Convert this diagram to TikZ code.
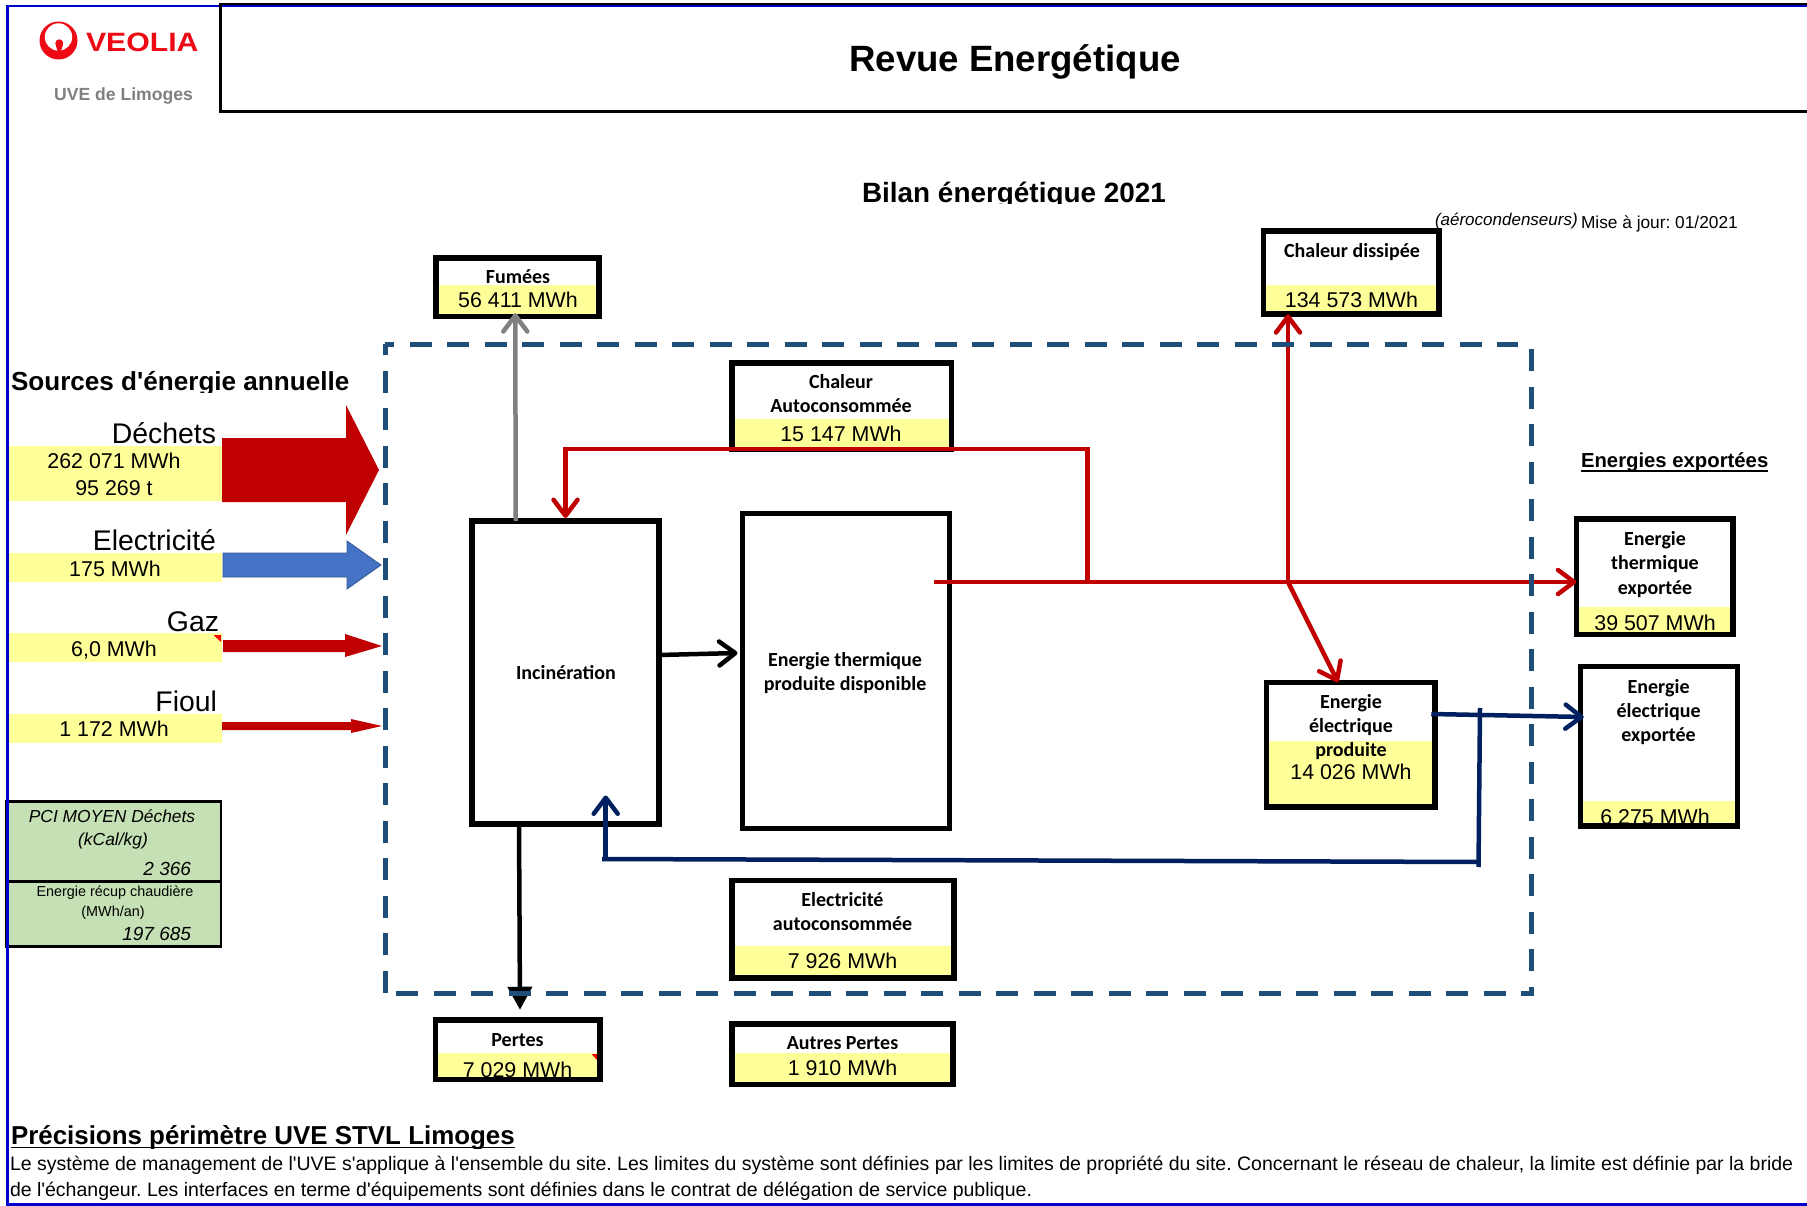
\documentclass[tikz,border=0pt]{standalone}
\usepackage{fontspec}
\newfontfamily\arialfont{Liberation Sans}
\newfontfamily\calibrifont{Carlito}
\usetikzlibrary{arrows.meta}
\definecolor{BANDYELLOW}{HTML}{FFFF99}
\definecolor{TABLEGREEN}{HTML}{C5E0B4}
\definecolor{DARKRED}{HTML}{C00000}
\definecolor{NAVY}{HTML}{002060}
\definecolor{PERIMETER}{HTML}{1F4E79}
\definecolor{FRAMEBLUE}{HTML}{0000CC}
\definecolor{ELECBLUE}{HTML}{4472C4}
\definecolor{LOGORED}{HTML}{EE0A14}
\tikzset{
BOX/.style 2 args={draw=black,line width=5.5pt,minimum width=#1pt,minimum height=#2pt,inner sep=0pt,outer sep=0pt},
BAND/.style={draw=none,fill=BANDYELLOW},
TXT/.style={anchor=base,inner sep=0pt,outer sep=0pt,font=\arialfont\frenchspacing\fontsize{#1}{#1}\selectfont},
TXT/.default = 21.4,
ITXT/.style={anchor=base,inner sep=0pt,outer sep=0pt,font=\arialfont\frenchspacing\itshape\fontsize{#1}{#1}\selectfont},
BTXT/.style={anchor=base,inner sep=0pt,outer sep=0pt,font=\arialfont\frenchspacing\bfseries\fontsize{#1}{#1}\selectfont},
LABEL/.style={anchor=base,inner sep=0pt,outer sep=0pt,font=\calibrifont\bfseries\fontsize{20}{20}\selectfont},
FLOW/.style={line width=4.5pt,line cap=butt,line join=miter,-{Straight Barb[round,length=16pt,width=24pt]}},
WIRE/.style={line width=4.5pt,line cap=butt,line join=miter},
PERIM/.style={draw=PERIMETER,line width=5pt,dash pattern=on 22pt off 15.5pt,dash phase=#1},
TABLE/.style={draw=black,line width=2.5pt,fill=TABLEGREEN,minimum width=215pt,inner sep=0pt,outer sep=0pt},
}
\begin{document}
\begin{tikzpicture} %Revue energetique
[x=1pt,y=-1pt]
	\useasboundingbox (0,0) rectangle (1807,1206);
	% header
	\fill[FRAMEBLUE] (6,5.3) rectangle (1807,7.3);
	\path[draw=black,line width=2.3pt] (1807,4.3) -- (220.5,4.3) -- (220.5,68);
	\path[draw=black,line width=3pt] (220.5,68) -- (220.5,111.5) -- (1807,111.5);
	\fill[LOGORED] (58.5,40.5) circle (19);
	\fill[white] (58.5,37) circle (13.7);
	\fill[LOGORED] (59.3,43.3) circle (4);
	\fill[LOGORED] (55.6,45) -- (58.3,53) -- (60.3,53) -- (63,45) -- cycle;
	\node[BTXT=26.5,anchor=base west,text=LOGORED,xscale=1.14,transform shape] (veolia) at (86,52) {VEOLIA};
	\node[BTXT=17.6,text=black!50] (uve) at (123.5,101) {UVE de Limoges};
	\node[BTXT=36.6] (titre) at (1015,72) {Revue Energétique};
	\begin{scope}
		\clip (0,0) rectangle (1807,204);
		\node[BTXT=27.9] (bilan) at (1014,202.5) {Bilan énergétique 2021};
	\end{scope}
	\node[ITXT=17,anchor=base west] (aero) at (1435,225.5) {(aérocondenseurs)};
	\node[TXT=17.3,anchor=base west] (maj) at (1581,228.5) {Mise à jour: 01/2021};
	% sources
	\begin{scope}
		\clip (0,340) rectangle (380,392.5);
		\node[BTXT=26.1,anchor=base west] (sources) at (11,390.3) {Sources d'énergie annuelle};
	\end{scope}
	\path[BAND] (9,446) rectangle (222,501);
	\path[BAND] (9,553) rectangle (222,582);
	\path[BAND] (9,633) rectangle (222,662);
	\path[BAND] (9,714) rectangle (222,743);
	\fill[red] (213.5,635) -- (221,635) -- (221,642) -- cycle;
	\node[TXT=28.4,anchor=base east] (dechets) at (216,443.5) {Déchets};
	\node[TXT=28.4,anchor=base east] (electricite) at (216,550) {Electricité};
	\node[TXT=28.4,anchor=base east] (gaz) at (219,631) {Gaz};
	\node[TXT=28.4,anchor=base east] (fioul) at (217,711) {Fioul};
	\node[TXT] (vdechets) at (114,468.7) {262 071 MWh};
	\node[TXT] (tdechets) at (114,495.7) {95 269 t};
	\node[TXT] (velectricite) at (115,576) {175 MWh};
	\node[TXT] (vgaz) at (114,656) {6,0 MWh};
	\node[TXT] (vfioul) at (114,736) {1 172 MWh};
	\fill[DARKRED] (222,438) -- (346,438) -- (346,405) -- (379,470) -- (346,535) -- (346,502) -- (222,502) -- cycle;
	\path[draw=ELECBLUE!75!black,fill=ELECBLUE,line width=0.8pt] (223,553) -- (347,553) -- (347,541) -- (381,565) -- (347,589) -- (347,577) -- (223,577) -- cycle;
	\fill[DARKRED] (223,640) -- (345,640) -- (345,634) -- (382,646) -- (345,657) -- (345,652) -- (223,652) -- cycle;
	\fill[DARKRED] (222,722) -- (351,722) -- (351,719) -- (382,726) -- (351,733) -- (351,730) -- (222,730) -- cycle;
	% green table
	\node[TABLE,minimum height=80pt] (pci) at (113.5,841.5) {};
	\node[TABLE,minimum height=65pt] (recup) at (113.5,914) {};
	\node[ITXT=17.4] (tpci) at (112,822) {PCI MOYEN Déchets};
	\node[ITXT=17.4] (tunit) at (113,845) {(kCal/kg)};
	\node[ITXT=19,anchor=base east] (vpci) at (191,875) {2 366};
	\node[TXT=14.4] (trecup) at (115,896) {Energie récup chaudière};
	\node[TXT=14.4] (turecup) at (113,916) {(MWh/an)};
	\node[ITXT=19,anchor=base east] (vrecup) at (191,940) {197 685};
	% yellow bands and values
	\path[BAND] (436,285) rectangle (598,316);
	\path[BAND] (732,419) rectangle (951,449);
	\path[BAND] (1264,285) rectangle (1438,314);
	\path[BAND] (1577,607) rectangle (1732,634);
	\path[BAND] (1267,741) rectangle (1434,806);
	\path[BAND] (1581,801) rectangle (1737,825);
	\path[BAND] (732,946) rectangle (953,977);
	\path[BAND] (436,1053) rectangle (599,1079);
	\path[BAND] (732,1053) rectangle (952,1084);
	\fill[red] (591.6,1054) -- (597,1054) -- (597,1060) -- cycle;
	\node[TXT] (vfumees) at (518,308) {56 411 MWh};
	\node[TXT] (vauto) at (841,441) {15 147 MWh};
	\node[TXT] (vdissipee) at (1351.5,308) {134 573 MWh};
	\node[TXT] (vthermexp) at (1655,630) {39 507 MWh};
	\node[TXT] (vprod) at (1351,779) {14 026 MWh};
	\node[TXT] (velecexp) at (1655,824) {6 275 MWh};
	\node[TXT] (velecauto) at (842.5,968) {7 926 MWh};
	\node[TXT] (vpertes) at (517.5,1077) {7 029 MWh};
	\node[TXT] (vautres) at (842.5,1075) {1 910 MWh};
	% boxes
	\node[BOX={163}{58.5}] (fumees) at (517.25,287.5) {};
	\node[BOX={219.5}{86.5}] (chaleurauto) at (841.5,406) {};
	\node[BOX={187}{303}] (incin) at (565.5,672.5) {};
	\node[BOX={207}{315}] (thermique) at (846,671) {};
	\node[BOX={175.5}{83}] (dissipee) at (1351,272.75) {};
	\node[BOX={168.5}{124.5}] (prod) at (1350.5,744.5) {};
	\node[BOX={156.5}{115.5}] (thermexp) at (1654.5,576.5) {};
	\node[BOX={157}{159.5}] (elecexp) at (1658.75,746) {};
	\node[BOX={222}{97.5}] (elecauto) at (842.75,929) {};
	\node[BOX={221}{60.5}] (autres) at (842.25,1054) {};
	\node[BOX={164.5}{59.5}] (pertes) at (517.5,1049.5) {};
	% labels
	\node[LABEL] (lfumees) at (518,284) {Fumées};
	\node[LABEL] (lauto1) at (841,388) {Chaleur};
	\node[LABEL] (lauto2) at (841,412) {Autoconsommée};
	\node[LABEL] (ldissipee) at (1352,258) {Chaleur dissipée};
	\node[LABEL] (lincin) at (566,679) {Incinération};
	\node[LABEL] (lther1) at (845,666) {Energie thermique};
	\node[LABEL] (lther2) at (845,690) {produite disponible};
	\node[LABEL] (lthexp1) at (1655,545) {Energie};
	\node[LABEL] (lthexp2) at (1655,569) {thermique};
	\node[LABEL] (lthexp3) at (1655,594) {exportée};
	\node[LABEL] (lprod1) at (1351,708.5) {Energie};
	\node[LABEL] (lprod2) at (1351,732.5) {électrique};
	\node[LABEL] (lprod3) at (1351,756.5) {produite};
	\node[LABEL] (lelexp1) at (1658.6,693) {Energie};
	\node[LABEL] (lelexp2) at (1658.6,717) {électrique};
	\node[LABEL] (lelexp3) at (1658.6,741) {exportée};
	\node[LABEL] (lelau1) at (842.5,906.5) {Electricité};
	\node[LABEL] (lelau2) at (842.5,930.5) {autoconsommée};
	\node[LABEL] (lpertes) at (517.5,1046) {Pertes};
	\node[LABEL] (lautres) at (842.5,1049.5) {Autres Pertes};
	\node[BTXT=20.3,anchor=base west] (exportees) at (1581,467.5) {Energies exportées};
	\path[draw=black,line width=2pt] ([yshift=-3.5pt]exportees.base west) -- ([yshift=-3.5pt]exportees.base east);
	% flows
	\coordinate (thermout) at (934,582);
	\coordinate (jauto) at (1087.5,582);
	\coordinate (jdiss) at (1288,582);
	\coordinate (jbleu) at (1480,708);
	\coordinate (jcoin) at (1478.5,862);
	\coordinate (jretour) at (605.7,859);
	\draw[FLOW,black!50] ([xshift=-1.5pt]fumees.south |- incin.north) -- ([shift={(-2pt,3.5pt)}]fumees.south);
	\draw[FLOW,DARKRED] (thermout) -- ([yshift=-5.5pt]thermexp.west);
	\draw[FLOW,DARKRED] (jauto) |- ([yshift=0.5pt]chaleurauto.south) -| ([yshift=3pt]incin.north);
	\draw[FLOW,DARKRED] (jdiss) -- (jdiss |- dissipee.south);
	\draw[FLOW,DARKRED] (jdiss) -- ([xshift=-12.5pt]prod.north);
	\draw[FLOW,black] ([yshift=17.5pt]incin.east) -- ([shift={(-5pt,18pt)}]thermique.west);
	\draw[line width=4.5pt,black,-{Triangle[length=23pt,width=24pt]}] ([xshift=-46.5pt]incin.south) -- ([shift={(2.5pt,10pt)}]pertes.north);
	\draw[FLOW,NAVY] ([shift={(-3.5pt,30.5pt)}]prod.east) -- ([shift={(3.5pt,29pt)}]elecexp.west);
	\draw[WIRE,NAVY] (jbleu) -- ([yshift=-5pt]jcoin);
	\draw[WIRE,NAVY] (jcoin) -- ([xshift=-3.7pt]jretour);
	\draw[FLOW,NAVY] ([yshift=2pt]jretour) -- ([shift={(40.2pt,28.5pt)}]incin.south);
	% perimeter
	\path[PERIM=12.5] (384.7,344) -- (1518,344);
	\path[PERIM=11] (385.2,344) -- (385.2,993.5);
	\path[PERIM=9.2] (1534,993.5) -- (393,993.5);
	\path[PERIM=12.5] (1531.5,996) -- (1531.5,347);
	% notes
	\begin{scope}
		\clip (0,1110) rectangle (1807,1148.5);
		\node[BTXT=25.9,anchor=base west] (precisions) at (11,1144) {Précisions périmètre UVE STVL Limoges};
	\end{scope}
	\path[draw=black,line width=1.8pt] ([yshift=-3.5pt]precisions.base west) -- ([yshift=-3.5pt]precisions.base east);
	\node[TXT=19.5,anchor=base west] (note1) at (10,1170) {Le système de management de l'UVE s'applique à l'ensemble du site. Les limites du système sont définies par les limites de propriété du site. Concernant le réseau de chaleur, la limite est définie par la bride};
	\node[TXT=19.5,anchor=base west] (note2) at (10,1196.5) {de l'échangeur. Les interfaces en terme d'équipements sont définies dans le contrat de délégation de service publique.};
	% frame
	\fill[FRAMEBLUE] (6,5.3) rectangle (9,1206);
	\fill[FRAMEBLUE] (6,1203) rectangle (1807,1206);
\end{tikzpicture}
\end{document}
